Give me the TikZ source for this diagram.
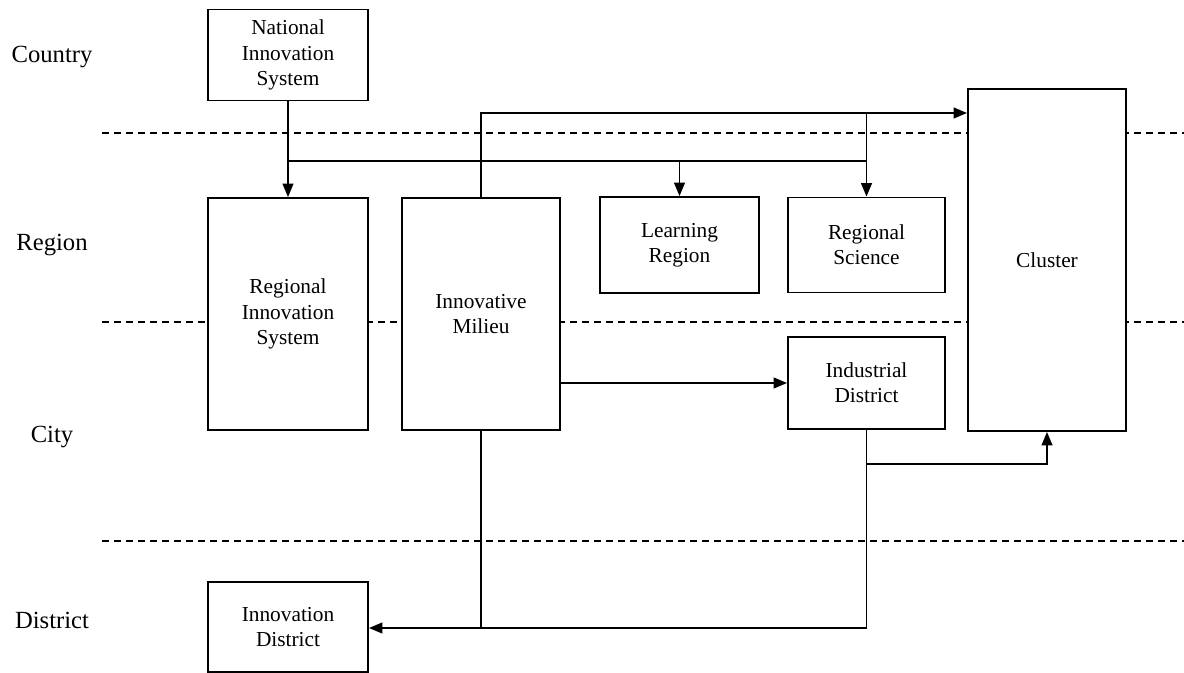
\documentclass[tikz,border=0pt]{standalone}
\usepackage{fontspec}
\setmainfont{Liberation Serif}
\usetikzlibrary{arrows.meta}
\begin{document}
\begin{tikzpicture}[x=0.75pt,y=-0.75pt,
  box/.style={draw,fill=white,line width=1.4pt,inner sep=0pt,align=center,
    font=\fontsize{16}{19}\selectfont},
  level/.style={font=\fontsize{18.5}{22}\selectfont},
  sep/.style={dashed,dash pattern=on 5.25pt off 3.75pt,line width=1.2pt},
  link/.style={line width=1.4pt},
  arrow/.style={link,-{Triangle[length=10pt,width=8pt]}}]
\useasboundingbox (0,0) rectangle (1184,673);

% scale levels
\draw[sep] (102,133) -- (1184,133);
\draw[sep] (102,322) -- (1184,322);
\draw[sep] (102,541) -- (1184,541);
\node[level] (country)  at (52,57)  {Country};
\node[level] (region)   at (52,245) {Region};
\node[level] (city)     at (52,437) {City};
\node[level] (district) at (52,620) {District};

% concepts
\node[box,minimum width=120pt,minimum height=68.25pt] (nis) at (288,55)
  {National\\Innovation\\System};
\node[box,minimum width=120pt,minimum height=174pt] (ris) at (288,314)
  {Regional\\Innovation\\System};
\node[box,minimum width=118.5pt,minimum height=174pt] (milieu) at (481,314)
  {Innovative\\Milieu};
\node[box,minimum width=119.25pt,minimum height=72pt] (lr) at (679.5,245)
  {Learning\\Region};
\node[box,minimum width=117.75pt,minimum height=71.25pt] (rs) at (866.5,245)
  {Regional\\Science};
\node[box,minimum width=118.5pt,minimum height=256.5pt] (cluster) at (1047,260)
  {Cluster};
\node[box,minimum width=117.75pt,minimum height=69pt] (indd) at (866.5,383)
  {Industrial\\District};
\node[box,minimum width=120pt,minimum height=67.5pt] (innd) at (288,627)
  {Innovation\\District};

% junction points
\coordinate (top) at (481,113);
\coordinate (bus) at (288,161);
\coordinate (low) at (866.5,628);
\coordinate (mid) at (866.5,464);

% connectors
\draw[arrow] (nis.south) -- (ris.north);
\draw[link] (bus) -- (bus -| rs.north);
\draw[arrow] (bus -| lr.north) -- (lr.north);
\draw[arrow] (milieu.north) -- (top) -- (top -| cluster.west);
\draw[arrow] (top -| rs.north) -- (rs.north);
\draw[arrow] (milieu.east |- indd.west) -- (indd.west);
\draw[arrow] (indd.south) -- (low) -- (low -| innd.east);
\draw[link] (milieu.south) -- (milieu.south |- low);
\draw[arrow] (mid) -- (mid -| cluster.south) -- (cluster.south);
\end{tikzpicture}
\end{document}
